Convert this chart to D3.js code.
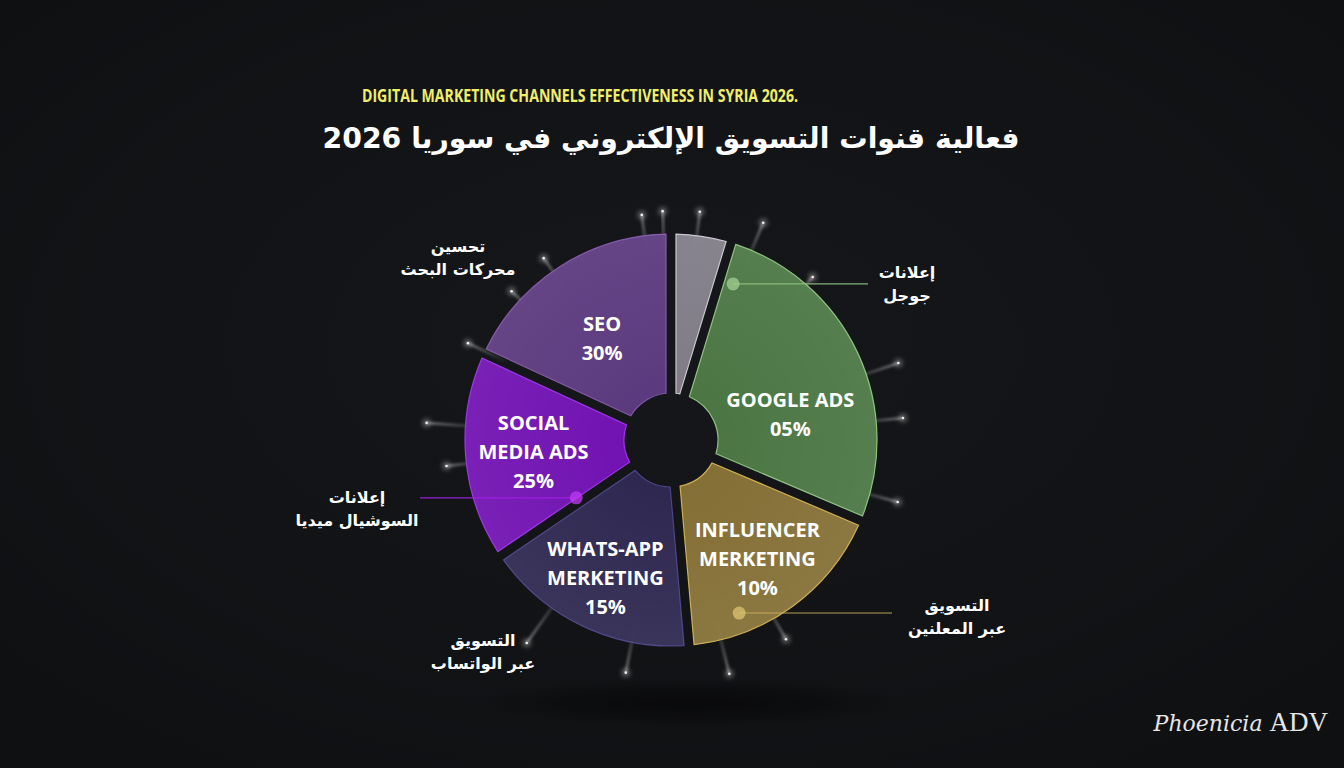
<!DOCTYPE html>
<html>
<head>
<meta charset="utf-8">
<script src="https://cdn.jsdelivr.net/npm/d3@7"></script>
<style>
  html, body { margin: 0; padding: 0; background: #111214; overflow: hidden; }
  svg { display: block; }
</style>
</head>
<body>
<svg id="chart" width="1344" height="768"></svg>
<script>
// ---------------- DATA ----------------
const categories   = ["Other", "Google Ads", "Influencer Marketing", "WhatsApp Marketing", "Social Media Ads", "SEO"];
// share of the circle each slice occupies as drawn
const sliceShares  = [4.7, 26.7, 17.2, 16.9, 16.4, 18.1];
// percentages printed on the slices
const labelValues  = [null, 5, 10, 15, 25, 30];
const englishNames = [[], ["GOOGLE ADS"], ["INFLUENCER", "MERKETING"], ["WHATS-APP", "MERKETING"], ["SOCIAL", "MEDIA ADS"], ["SEO"]];
const arabicNames  = [[], ["إعلانات", "جوجل"], ["التسويق", "عبر المعلنين"], ["التسويق", "عبر الواتساب"], ["إعلانات", "السوشيال ميديا"], ["تحسين", "محركات البحث"]];
const titleEn = "DIGITAL MARKETING CHANNELS EFFECTIVENESS IN SYRIA 2026.";
const titleAr = "فعالية قنوات التسويق الإلكتروني في سوريا 2026";

// ---------------- STYLE / LAYOUT ----------------
const W = 1344, H = 768;
const cx = 671, cy = 440;
const R = 206, r0 = 47;
const fills   = ["#86828c", "#4e7b46", "#8a7437", "#2f2853", "#7612ba", "#5f3b84"];
const strokes = ["#c9c5cf", "#8dc07f", "#cfae52", "#4c4486", "#9a34e2", "#8058a8"];
// label placement: [radius, angle offset (deg) from slice bisector]
const labelPlace = [null, [122, 13], [147, 0], [153, 0], [138, -0.5], [123, -1.5]];
// arabic callouts: dot [angle deg, radius] (or null), line end x, text centre x,y
const callouts = [
  null,
  {dot: [21.7, 168], lineTo: 868, tx: 907, ty: 272, color: "#8fc282", dotFill: "#9fcf90"},
  {dot: [158.5, 186], lineTo: 892, tx: 957, ty: 605, color: "#c9b060", dotFill: "#dcc472"},
  {dot: null, tx: 483, ty: 640},
  {dot: [238.6, 111], lineTo: 420, tx: 357, ty: 497, color: "#a21fe6", dotFill: "#c13af5"},
  {dot: null, tx: 458, ty: 246}
];
// decorative light streaks around the pie [angle deg, end radius]
const sparks = [[352.6,227],[357.9,229],[7.2,230],[23,236],[41,216],[71.3,240],[84.6,233],[105.3,235],
                [150,230],[166,241],[191,237],[215.4,249],[263.4,226],[274,245],[295.5,225],[313,218],[325,222]];

const svg = d3.select("#chart");
const defs = svg.append("defs");

// background
const bg = defs.append("radialGradient").attr("id", "bgGrad").attr("cx", "50%").attr("cy", "45%").attr("r", "70%");
bg.append("stop").attr("offset", "0%").attr("stop-color", "#16171a");
bg.append("stop").attr("offset", "100%").attr("stop-color", "#0f1012");
svg.append("rect").attr("width", W).attr("height", H).attr("fill", "url(#bgGrad)");

const glow = defs.append("filter").attr("id", "glow").attr("x", "-300%").attr("y", "-300%").attr("width", "700%").attr("height", "700%");
glow.append("feGaussianBlur").attr("stdDeviation", 2.5);
const soft = defs.append("filter").attr("id", "soft").attr("x", "-50%").attr("y", "-50%").attr("width", "200%").attr("height", "200%");
soft.append("feGaussianBlur").attr("stdDeviation", 1.2);

// shadow below pie (soft radial gradient ellipse)
const sh = defs.append("radialGradient").attr("id", "shadowGrad");
sh.append("stop").attr("offset", "0%").attr("stop-color", "#060607").attr("stop-opacity", 0.75);
sh.append("stop").attr("offset", "60%").attr("stop-color", "#060607").attr("stop-opacity", 0.4);
sh.append("stop").attr("offset", "100%").attr("stop-color", "#060607").attr("stop-opacity", 0);
svg.append("ellipse").attr("cx", 690).attr("cy", 703).attr("rx", 215).attr("ry", 24)
  .attr("fill", "url(#shadowGrad)");

// titles
svg.append("text").attr("x", 580).attr("y", 102).attr("text-anchor", "middle")
  .attr("font-family", "'Open Sans', sans-serif").attr("font-weight", 700).attr("font-size", 18.5)
  .attr("fill", "#f0ee6a").attr("textLength", 436).attr("lengthAdjust", "spacingAndGlyphs")
  .text(titleEn);
svg.append("text").attr("x", 671).attr("y", 148).attr("text-anchor", "middle").attr("direction", "rtl")
  .attr("font-family", "'DejaVu Sans', sans-serif").attr("font-weight", 700).attr("font-size", 28.3)
  .attr("fill", "#ffffff").text(titleAr);

const toRad = d => d * Math.PI / 180;
const polar = (deg, rad) => [cx + rad * Math.sin(toRad(deg)), cy - rad * Math.cos(toRad(deg))];

// decorative streaks
const gSparks = svg.append("g");
sparks.forEach((s, i) => {
  const [x1, y1] = polar(s[0], 180), [x2, y2] = polar(s[0], s[1]);
  const gid = "sg" + i;
  const lg = defs.append("linearGradient").attr("id", gid).attr("gradientUnits", "userSpaceOnUse")
    .attr("x1", x1).attr("y1", y1).attr("x2", x2).attr("y2", y2);
  lg.append("stop").attr("offset", "0%").attr("stop-color", "#ffffff").attr("stop-opacity", 0);
  lg.append("stop").attr("offset", "100%").attr("stop-color", "#ffffff").attr("stop-opacity", 0.35);
  gSparks.append("line").attr("x1", x1).attr("y1", y1).attr("x2", x2).attr("y2", y2)
    .attr("stroke", `url(#${gid})`).attr("stroke-width", 3).attr("filter", "url(#soft)");
  gSparks.append("circle").attr("cx", x2).attr("cy", y2).attr("r", 4).attr("fill", "#ffffff").attr("opacity", 0.35).attr("filter", "url(#glow)");
  gSparks.append("circle").attr("cx", x2).attr("cy", y2).attr("r", 1.3).attr("fill", "#ffffff").attr("opacity", 0.9);
});

// pie
const pie = d3.pie().sort(null).value(d => d).startAngle(0).endAngle(2 * Math.PI);
const arcs = pie(sliceShares);
const arc = d3.arc().innerRadius(r0).outerRadius(R).padAngle(10 / R).padRadius(R);

const gPie = svg.append("g").attr("transform", `translate(${cx},${cy})`);
gPie.selectAll("path").data(arcs).join("path")
  .attr("d", arc)
  .attr("fill", (d, i) => fills[i])
  .attr("fill-opacity", 0.95)
  .attr("stroke", (d, i) => strokes[i])
  .attr("stroke-width", 1.2);

// soft inner light overlay
const sheen = defs.append("radialGradient").attr("id", "sheen").attr("gradientUnits", "userSpaceOnUse")
  .attr("cx", 0).attr("cy", 0).attr("r", R);
sheen.append("stop").attr("offset", "20%").attr("stop-color", "#ffffff").attr("stop-opacity", 0.0);
sheen.append("stop").attr("offset", "100%").attr("stop-color", "#ffffff").attr("stop-opacity", 0.06);
gPie.selectAll("path.sheen").data(arcs).join("path").attr("class", "sheen")
  .attr("d", arc).attr("fill", "url(#sheen)");

// slice labels
const fmt = d3.format("02d");
arcs.forEach((a, i) => {
  if (!labelPlace[i]) return;
  const mid = (a.startAngle + a.endAngle) / 2 * 180 / Math.PI + labelPlace[i][1];
  const [x, y] = polar(mid, labelPlace[i][0]);
  const lines = englishNames[i].concat([fmt(labelValues[i]) + "%"]);
  const t = svg.append("text").attr("text-anchor", "middle")
    .attr("font-family", "'Open Sans', sans-serif").attr("font-weight", 700).attr("font-size", 20)
    .attr("fill", "#ffffff");
  lines.forEach((ln, k) => {
    t.append("tspan").attr("x", x).attr("y", y + (k - (lines.length - 1) / 2) * 29 + 7).text(ln);
  });
});

// callouts
callouts.forEach((c, i) => {
  if (!c) return;
  if (c.dot) {
    const [dx, dy] = polar(c.dot[0], c.dot[1]);
    svg.append("line").attr("x1", dx).attr("y1", dy).attr("x2", c.lineTo).attr("y2", dy)
      .attr("stroke", c.color).attr("stroke-width", 1.1).attr("opacity", 0.9);
    svg.append("circle").attr("cx", dx).attr("cy", dy).attr("r", 6.5).attr("fill", c.dotFill).attr("opacity", 0.75);
  }
  const t = svg.append("text").attr("text-anchor", "middle").attr("direction", "rtl")
    .attr("font-family", "'DejaVu Sans', sans-serif").attr("font-weight", 700).attr("font-size", 16)
    .attr("fill", "#ffffff");
  arabicNames[i].forEach((ln, k) => {
    t.append("tspan").attr("x", c.tx).attr("y", c.ty + k * 23 + 6).text(ln);
  });
});

// watermark
const wm = svg.append("text").attr("x", 1328).attr("y", 731).attr("text-anchor", "end").attr("fill", "#e6e6e6");
wm.append("tspan").attr("font-family", "'DejaVu Serif', serif").attr("font-style", "italic").attr("font-size", 22).text("Phoenicia ");
wm.append("tspan").attr("font-family", "'Liberation Serif', serif").attr("font-size", 27).text("ADV");
</script>
</body>
</html>
